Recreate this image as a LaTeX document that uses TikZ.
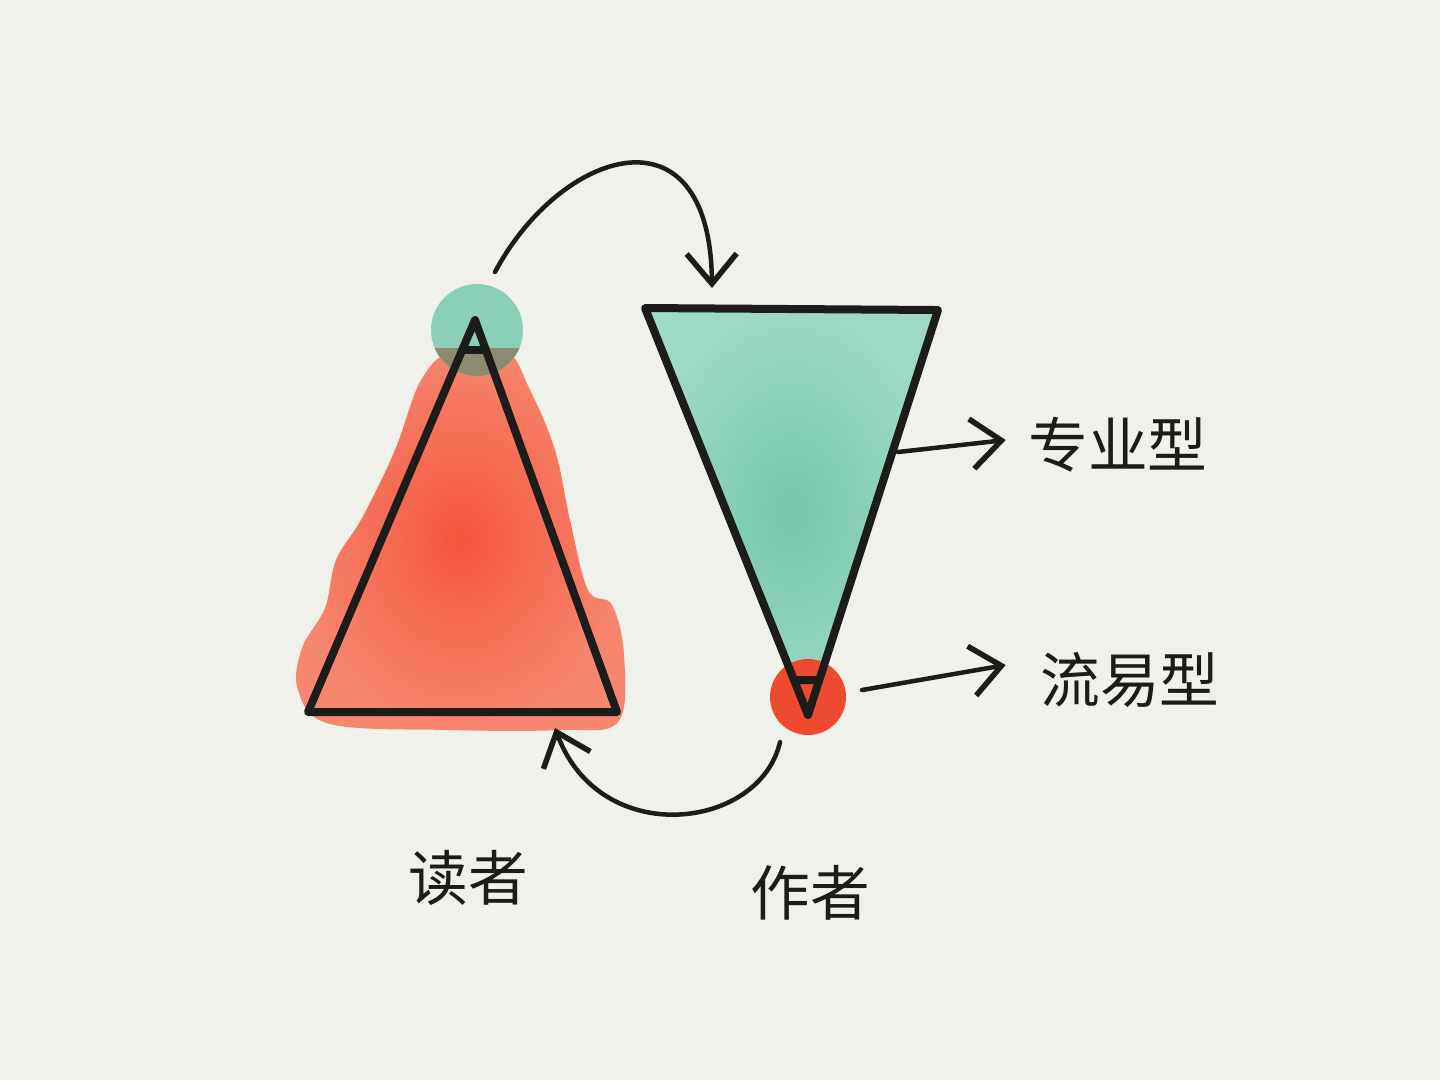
\documentclass[tikz,border=0pt]{standalone}
\usepackage{fontspec}
\newfontfamily\cjk{Noto Sans CJK SC}
\usetikzlibrary{arrows.meta,calc,positioning}
\definecolor{paper}{HTML}{F1F1EC}
\definecolor{inkline}{HTML}{1C1C1A}
\definecolor{redwash}{HTML}{F4553B}
\definecolor{redpale}{HTML}{F7866F}
\definecolor{reddot}{HTML}{EE4A32}
\definecolor{greenwash}{HTML}{74C7AC}
\definecolor{greenpale}{HTML}{9ED8C6}
\definecolor{greendot}{HTML}{8BCFB9}
\definecolor{mudwash}{HTML}{8E8A72}
\tikzset{
  edge/.style={line width=0.8mm, line join=round, line cap=round, draw=inkline},
  flow/.style={line width=0.45mm, line cap=round, draw=inkline,
    -{Straight Barb[length=3mm,width=5mm,line width=0.55mm]}},
  word/.style={font=\cjk\fontsize{17}{20}\selectfont, text=inkline, inner sep=1mm}
}
\begin{document}
\begin{tikzpicture}[x=0.1mm,y=-0.1mm]
		%%%%% START %%%%%
		\useasboundingbox (0,0) rectangle (1440,1080);
		\fill[paper] (0,0) rectangle (1440,1080);
		
		% reader triangle (points up)
		\coordinate (rtop) at (475,320);
		\coordinate (rleft) at (308,712);
		\coordinate (rright) at (617,712);
		% writer triangle (points down)
		\coordinate (wleft) at (645,308);
		\coordinate (wright) at (938,310);
		\coordinate (wtip) at (808,715);
		
		% red wash
		\shade[inner color=redwash, outer color=redpale] plot[smooth cycle, tension=0.6] coordinates {
			(450,352) (505,350) (530,390) (555,450) (570,520) (588,590) (612,605)
			(624,655) (618,722) (560,730) (450,730) (330,724) (298,690) (302,648)
			(325,608) (336,560) (362,518) (395,450) (420,382)};
		\fill[greendot] (477,330) circle [radius=4.6mm];
		\begin{scope}
			\clip (477,330) circle [radius=4.6mm];
			\fill[mudwash] (400,348) rectangle (560,400);
		\end{scope}
		
		% green wash
		\shade[inner color=greenwash, outer color=greenpale] (wleft) -- (wright) -- (wtip) -- cycle;
		\fill[reddot] (808,697) circle [radius=3.8mm];
		
		\draw[edge] (rleft) -- (rtop) -- (rright) -- cycle;
		\draw[edge] ($(rtop)!0.077!(rleft)$) -- ($(rtop)!0.077!(rright)$);
		\draw[edge] (wleft) -- (wright) -- (wtip) -- cycle;
		\draw[edge] ($(wtip)!0.086!(wleft)$) -- ($(wtip)!0.086!(wright)$);
		
		% labels
		\node[word] (zhuanye) at (1118,445) {专业型};
		\node[word] (liuyi) at (1130,680) {流易型};
		\node[word] (reader) at (468,878) {读者};
		\node[word] (writer) at (810,893) {作者};
		
		% arrows
		\coordinate (side) at (898,452);
		\coordinate (dot) at (862,690);
		\coordinate (up) at (495,272);
		\coordinate (down) at (712,288);
		\coordinate (back) at (780,742);
		\coordinate (base) at (555,728);
		\draw[flow] (side) -- ($(zhuanye.west)+(-12,-5)$);
		\draw[flow] (dot) -- ($(liuyi.west)+(-24,-15)$);
		\draw[flow] (up) .. controls (560,150) and (710,100) .. (down);
		\draw[flow] (back) .. controls (760,830) and (600,850) .. (base);
		
		%%%%% END %%%%%
	\end{tikzpicture}
\end{document}
